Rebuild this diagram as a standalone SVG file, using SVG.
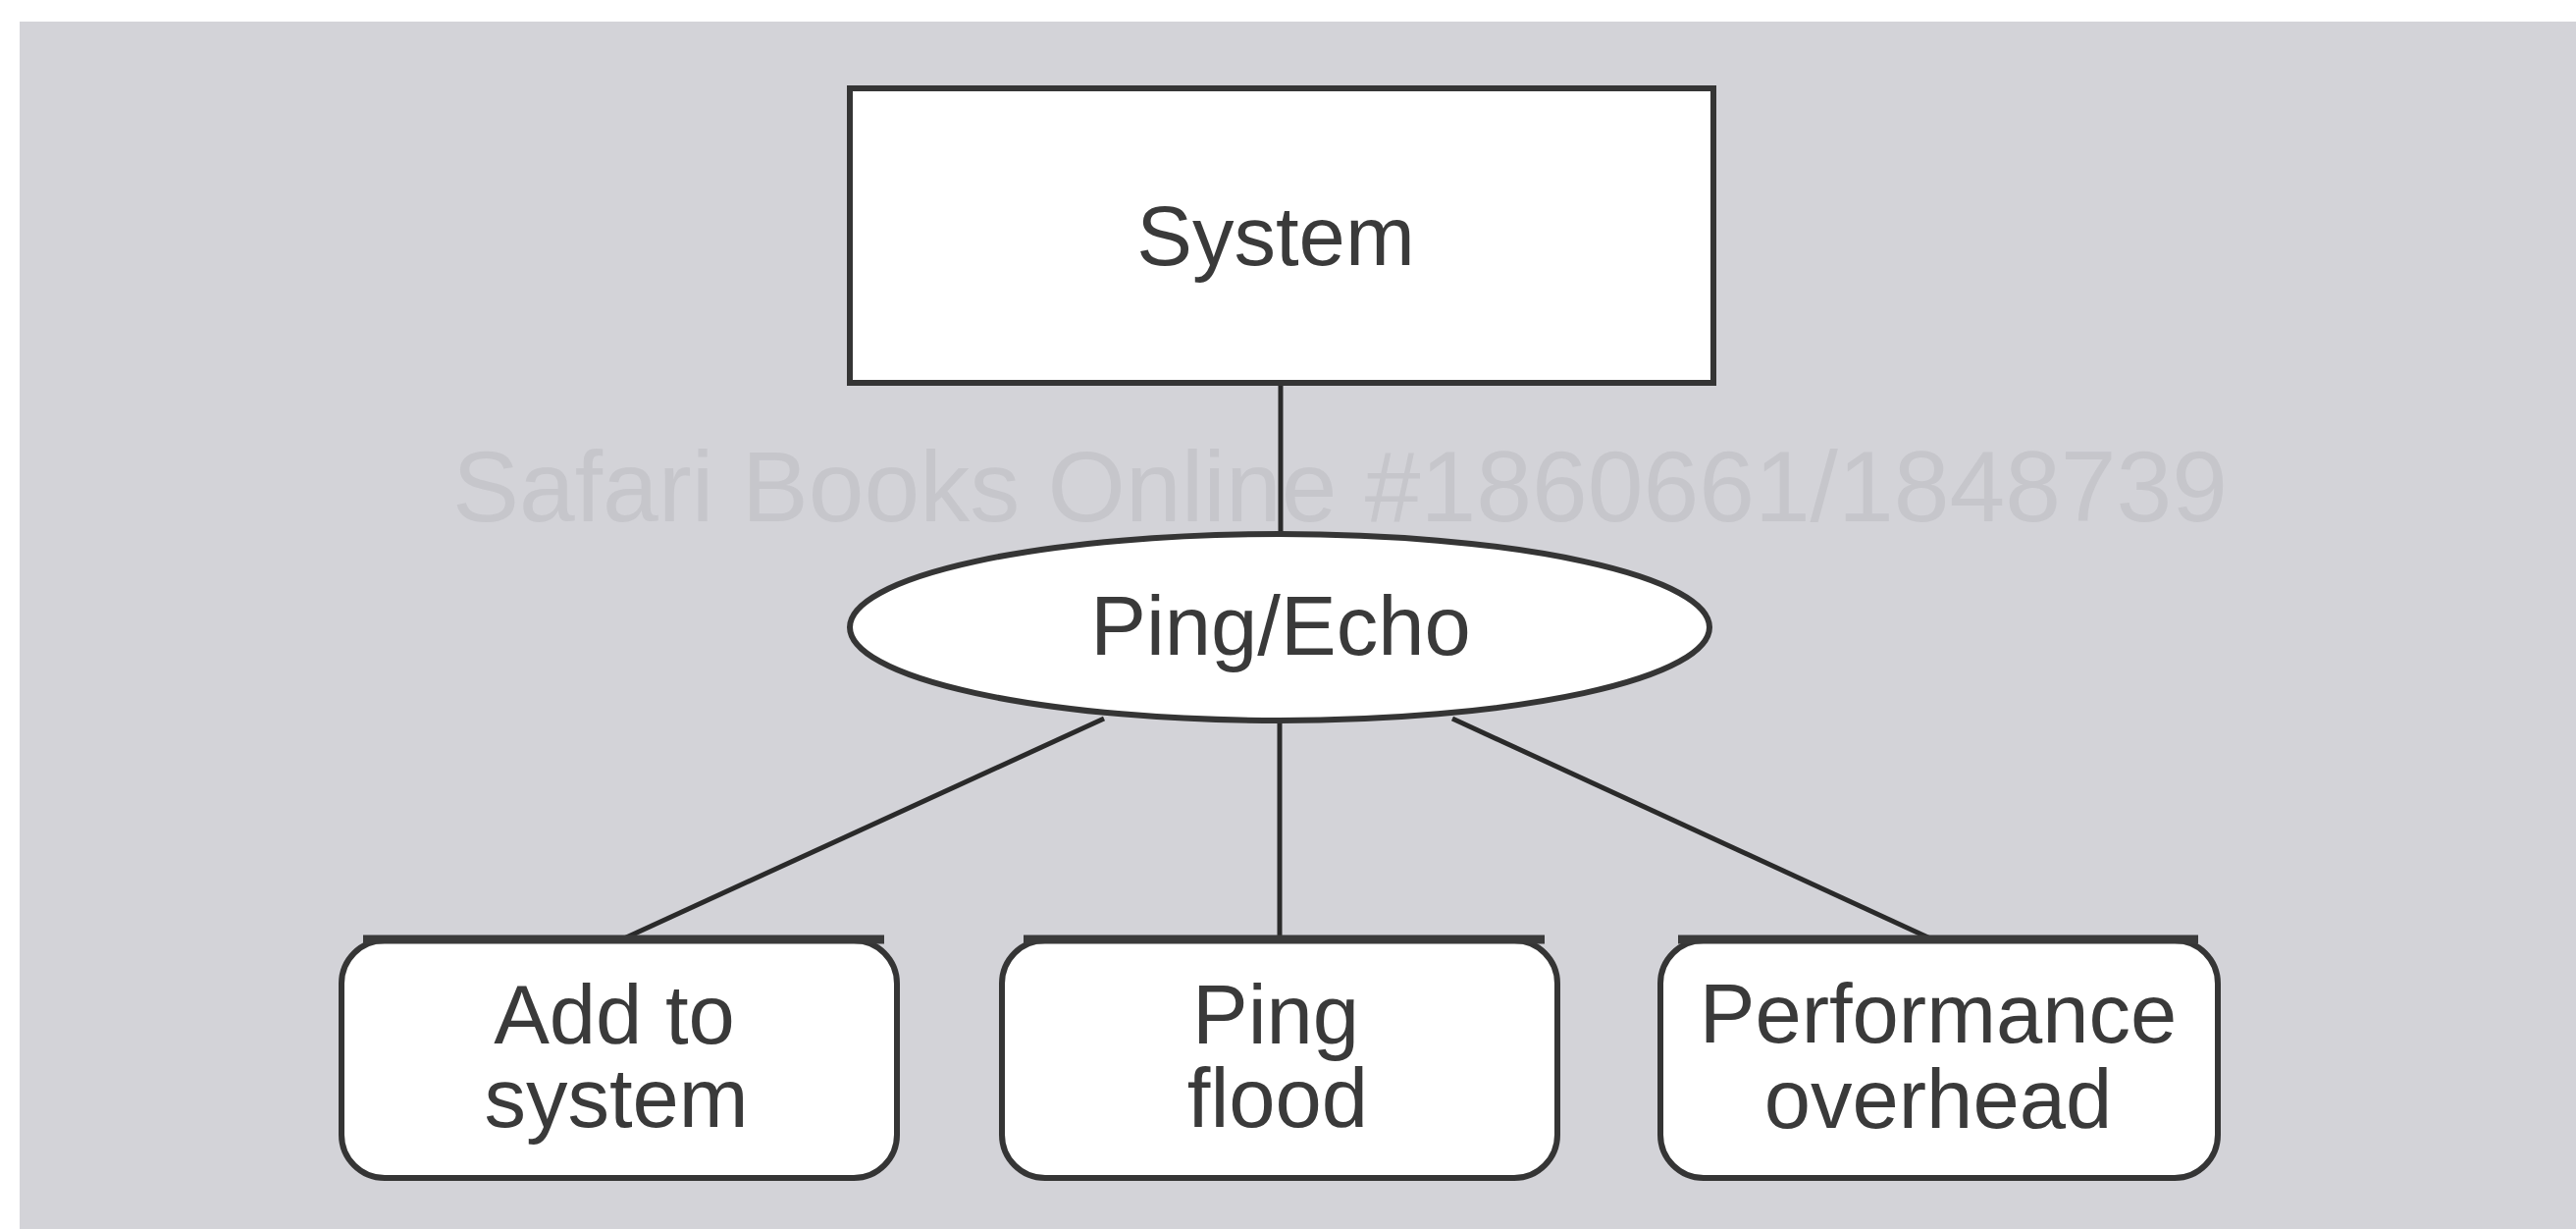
<svg xmlns="http://www.w3.org/2000/svg" width="2625" height="1252" viewBox="0 0 2625 1252">
<style>
.bg{fill:#d3d3d8}
.box{fill:#ffffff;stroke:#353535;stroke-width:6}
.top{stroke:#3a3a3a;stroke-width:9}
.con{stroke:#2a2a2a;stroke-width:5;fill:none}
.lbl{font-family:"Liberation Sans",Arial,sans-serif;font-size:85px;fill:#3a3a3a;text-anchor:middle}
.wm{font-family:"Liberation Sans",Arial,sans-serif;font-size:102px;fill:#c6c6cb}
</style>
<rect x="0" y="0" width="2625" height="1252" fill="#ffffff"/>
<rect class="bg" x="20" y="22" width="2605" height="1230"/>
<text class="wm" x="461" y="531">Safari Books Online #1860661/1848739</text>
<g id="connectors">
<line class="con" x1="1305" y1="390" x2="1305" y2="544"/>
<line class="con" x1="1125" y1="732" x2="636" y2="956"/>
<line class="con" x1="1304" y1="736" x2="1304" y2="956"/>
<line class="con" x1="1480" y1="732" x2="1967" y2="956"/>
</g>
<g id="system">
<rect class="box" x="866" y="90" width="880" height="300"/>
<text class="lbl" x="1300" y="270">System</text>
</g>
<g id="pingecho">
<ellipse class="box" cx="1304" cy="639" rx="438" ry="95"/>
<text class="lbl" x="1305" y="667">Ping/Echo</text>
</g>
<g id="add">
<rect class="box" x="348" y="958" width="566" height="242" rx="44"/>
<line class="top" x1="370" y1="957" x2="901" y2="957"/>
<text class="lbl" x="626" y="1063">Add to</text>
<text class="lbl" x="628" y="1148">system</text>
</g>
<g id="flood">
<rect class="box" x="1021" y="958" width="566" height="242" rx="44"/>
<line class="top" x1="1043" y1="957" x2="1574" y2="957"/>
<text class="lbl" x="1300" y="1063">Ping</text>
<text class="lbl" x="1302" y="1148">flood</text>
</g>
<g id="perf">
<rect class="box" x="1692" y="958" width="568" height="242" rx="44"/>
<line class="top" x1="1710" y1="957" x2="2240" y2="957"/>
<text class="lbl" x="1975" y="1062">Performance</text>
<text class="lbl" x="1975" y="1149">overhead</text>
</g>
</svg>
